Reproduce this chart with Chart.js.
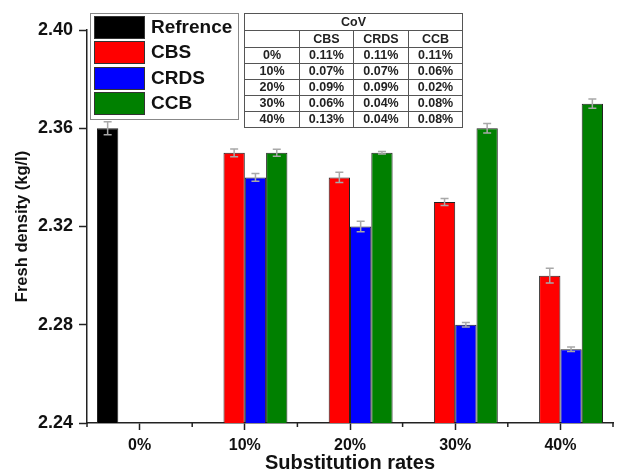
<!DOCTYPE html>
<html>
<head>
<meta charset="utf-8">
<script src="https://cdn.jsdelivr.net/npm/chart.js@4"></script>
<style>
  body { margin: 0; background: #fff; }
  #wrap { position: relative; width: 619px; height: 475px; }
  #legend { position: absolute; left: 90px; top: 13px; width: 147px; height: 105px;
    border: 1px solid #888; font: bold 19px "Liberation Sans", Arial, sans-serif; color: #111; }
  #legend .item { position: absolute; left: 3px; height: 22px; }
  #legend .sw { position: absolute; left: 0; top: 0; width: 49px; height: 21px; border: 1px solid #333; }
  #legend .lb { position: absolute; left: 57px; top: 0; white-space: nowrap; line-height: 22px; }
  #cov { position: absolute; left: 244px; top: 13px; border-collapse: collapse;
    font: bold 12.5px "Liberation Sans", Arial, sans-serif; color: #222; }
  #cov td { border: 1px solid #555; text-align: center; padding: 0; height: 15px; line-height: 15px; }
</style>
</head>
<body>
<div id="wrap">
  <canvas id="barChart"></canvas>
  <div id="legend"></div>
  <table id="cov"></table>
</div>
<script>
  const rates = ["0%", "10%", "20%", "30%", "40%"];

  const refDensity = [2.36, null, null, null, null];
  const cbsDensity = [null, 2.35, 2.34, 2.33, 2.30];
  const crdsDensity = [null, 2.34, 2.32, 2.28, 2.27];
  const ccbDensity = [null, 2.35, 2.35, 2.36, 2.37];

  // standard deviations
  const refErr = [0.0026, 0, 0, 0, 0];
  const cbsErr = [0, 0.0016, 0.0021, 0.0014, 0.003];
  const crdsErr = [0, 0.0016, 0.0021, 0.0009, 0.0009];
  const ccbErr = [0, 0.0014, 0.0005, 0.0019, 0.0019];

  const covCBS = ["0.11%", "0.07%", "0.09%", "0.06%", "0.13%"];
  const covCRDS = ["0.11%", "0.07%", "0.09%", "0.04%", "0.04%"];
  const covCCB = ["0.11%", "0.06%", "0.02%", "0.08%", "0.08%"];

  const yTicks = [2.24, 2.28, 2.32, 2.36, 2.40];

  const series = [
    { label: "Refrence", data: refDensity, err: refErr, color: "#000000" },
    { label: "CBS", data: cbsDensity, err: cbsErr, color: "#ff0000" },
    { label: "CRDS", data: crdsDensity, err: crdsErr, color: "#0000ff" },
    { label: "CCB", data: ccbDensity, err: ccbErr, color: "#008000" }
  ];

  // legend
  const legend = document.getElementById("legend");
  series.forEach((s, i) => {
    const item = document.createElement("div");
    item.className = "item";
    item.style.top = (2 + i * 25.3) + "px";
    item.innerHTML = '<div class="sw" style="background:' + s.color + '"></div><span class="lb">' + s.label + '</span>';
    legend.appendChild(item);
  });

  // CoV table
  const cov = document.getElementById("cov");
  let html = '<tr><td colspan="4" style="height:16px">CoV</td></tr>';
  html += '<tr><td style="width:54px;height:16px"></td><td style="width:53px">CBS</td><td style="width:54px">CRDS</td><td style="width:53px">CCB</td></tr>';
  rates.forEach((r, i) => {
    html += '<tr><td>' + r + '</td><td>' + covCBS[i] + '</td><td>' + covCRDS[i] + '</td><td>' + covCCB[i] + '</td></tr>';
  });
  cov.innerHTML = html;

  const errorBars = {
    id: "errorBars",
    afterDatasetsDraw(chart) {
      const ctx = chart.ctx;
      const y = chart.scales.y;
      ctx.save();
      ctx.strokeStyle = "#a8a8a8";
      ctx.lineWidth = 1.5;
      chart.data.datasets.forEach((ds, di) => {
        const meta = chart.getDatasetMeta(di);
        meta.data.forEach((bar, i) => {
          const v = ds.data[i];
          if (v === null) return;
          const e = series[di].err[i];
          const yt = y.getPixelForValue(v + e);
          const yb = y.getPixelForValue(v - e);
          ctx.beginPath();
          ctx.moveTo(bar.x, yt); ctx.lineTo(bar.x, yb);
          ctx.moveTo(bar.x - 4, yt); ctx.lineTo(bar.x + 4, yt);
          ctx.moveTo(bar.x - 4, yb); ctx.lineTo(bar.x + 4, yb);
          ctx.stroke();
        });
      });
      ctx.restore();
    }
  };

  const minorTicks = {
    id: "minorTicks",
    afterDraw(chart) {
      const ctx = chart.ctx;
      const x = chart.scales.x;
      const step = x.getPixelForValue(1) - x.getPixelForValue(0);
      ctx.save();
      ctx.strokeStyle = "#222";
      ctx.lineWidth = 1.5;
      for (let i = 0; i <= rates.length; i++) {
        const px = x.getPixelForValue(i) - step / 2;
        ctx.beginPath();
        ctx.moveTo(px, x.top);
        ctx.lineTo(px, x.top + 4);
        ctx.stroke();
      }
      ctx.restore();
    }
  };

  new Chart(document.getElementById("barChart"), {
    type: "bar",
    data: {
      labels: rates,
      datasets: series.map(s => ({
        label: s.label,
        data: s.data,
        backgroundColor: s.color,
        borderColor: "#222",
        borderWidth: 1,
        barPercentage: 1,
        categoryPercentage: 0.81
      }))
    },
    options: {
      responsive: true,
      maintainAspectRatio: false,
      animation: false,
      layout: { padding: { top: 30, right: 6, left: 0, bottom: 0 } },
      plugins: {
        legend: { display: false },
        tooltip: { enabled: false }
      },
      scales: {
        x: {
          grid: { offset: false, drawOnChartArea: false, tickLength: 7, tickColor: "#222", tickWidth: 1.5 },
          border: { color: "#222", width: 1.5 },
          ticks: { color: "#111", padding: 6, font: { family: "Liberation Sans", size: 16, weight: "bold" } },
          title: { display: true, text: "Substitution rates", color: "#111", padding: { top: 0, bottom: 0 },
            font: { family: "Liberation Sans", size: 20, weight: "bold" } },
          afterFit: s => { s.height = 52; }
        },
        y: {
          min: 2.24,
          max: 2.40,
          afterBuildTicks: s => { s.ticks = yTicks.map(v => ({ value: v })); },
          grid: { drawOnChartArea: false, tickLength: 8, tickColor: "#222", tickWidth: 1.5 },
          border: { color: "#222", width: 1.5 },
          ticks: { color: "#111", padding: 6, callback: v => v.toFixed(2),
            font: { family: "Liberation Sans", size: 18, weight: "bold" } },
          title: { display: true, text: "Fresh density (kg/l)", color: "#111", padding: { top: 13, bottom: 0 },
            font: { family: "Liberation Sans", size: 16.5, weight: "bold" } },
          afterFit: s => { s.width = 87; }
        }
      }
    },
    plugins: [errorBars, minorTicks]
  });
</script>
</body>
</html>
